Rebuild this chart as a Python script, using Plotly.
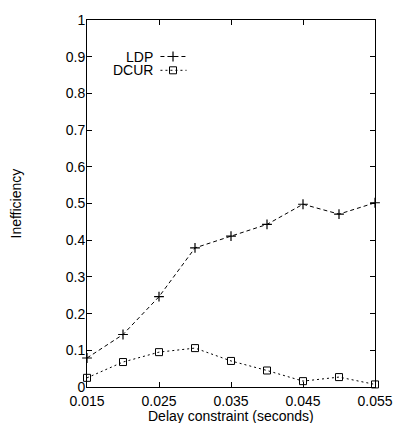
import plotly.graph_objects as go

delay = [0.015, 0.020, 0.025, 0.030, 0.035, 0.040, 0.045, 0.050, 0.055]
ldp = [0.079, 0.143, 0.246, 0.379, 0.411, 0.443, 0.498, 0.471, 0.502]
dcur = [0.025, 0.068, 0.095, 0.106, 0.071, 0.045, 0.016, 0.027, 0.007]
xticks = [0.015, 0.025, 0.035, 0.045, 0.055]
xticklabels = ["0.015", "0.025", "0.035", "0.045", "0.055"]
yticks = [0, 0.1, 0.2, 0.3, 0.4, 0.5, 0.6, 0.7, 0.8, 0.9, 1]
yticklabels = ["0", "0.1", "0.2", "0.3", "0.4", "0.5", "0.6", "0.7", "0.8", "0.9", "1"]
series_names = ["LDP", "DCUR"]

FONT = "Liberation Sans, Arial, sans-serif"
W, H = 405, 423
L, R, T, B = 87, 20, 15, 36
pw, ph = W - L - R, H - T - B

ldp_style = dict(line=dict(color="black", width=1, dash="4px,3px"),
                 marker=dict(symbol="cross-thin", size=7, line=dict(color="black", width=1.2)))
dcur_style = dict(line=dict(color="black", width=1, dash="2px,3px"),
                  marker=dict(symbol="square-open", size=7, color="black", line=dict(width=1)))

fig = go.Figure()
fig.add_trace(go.Scatter(x=delay, y=ldp, mode="lines+markers", name=series_names[0],
                         cliponaxis=False, **ldp_style))
fig.add_trace(go.Scatter(x=delay, y=dcur, mode="lines+markers", name=series_names[1],
                         cliponaxis=False, **dcur_style))

# legend keys (text left, sample right like gnuplot)
def px_x(p):
    return (p - L) / pw
def px_y(p):
    return 1 - (p - T) / ph

rows = [52, 66]
styles = [ldp_style, dcur_style]
for name, yy, st in zip(series_names, rows, styles):
    fig.add_annotation(x=px_x(156), y=px_y(yy), xref="paper", yref="paper",
                       text=name, showarrow=False, xanchor="right", yanchor="middle",
                       borderpad=0,
                       font=dict(family=FONT, size=14, color="black"))
    fig.add_trace(go.Scatter(x=[px_x(163), px_x(176), px_x(190)], y=[px_y(yy)] * 3,
                             xaxis="x2", yaxis="y2", mode="lines", showlegend=False,
                             hoverinfo="skip", line=st["line"]))
    fig.add_trace(go.Scatter(x=[px_x(176)], y=[px_y(yy)],
                             xaxis="x2", yaxis="y2", mode="markers", showlegend=False,
                             hoverinfo="skip", marker=st["marker"]))

fig.add_annotation(x=0.5, y=0, xref="paper", yref="paper", yshift=-29,
                   text="Delay constraint (seconds)", showarrow=False,
                   xanchor="center", yanchor="middle", borderpad=0,
                   font=dict(family=FONT, size=14, color="black"))
fig.add_annotation(x=0, y=0.5, xref="paper", yref="paper", xshift=-(L - 15),
                   text="Inefficiency", showarrow=False, textangle=-90,
                   xanchor="center", yanchor="middle",
                   font=dict(family=FONT, size=14, color="black"))

axis_common = dict(showgrid=False, zeroline=False, showline=True, linecolor="black",
                   linewidth=1, mirror="allticks", ticks="inside", ticklen=5,
                   tickcolor="black", tickwidth=1,
                   tickfont=dict(family=FONT, size=14, color="black"))

fig.update_layout(
    width=W, height=H,
    margin=dict(l=L, r=R, t=T, b=B, pad=0),
    paper_bgcolor="white", plot_bgcolor="white",
    showlegend=False,
    xaxis=dict(range=[0.015, 0.055], tickvals=xticks, ticktext=xticklabels,
               ticklabelstandoff=1, **axis_common),
    yaxis=dict(range=[0, 1], tickvals=yticks, ticktext=yticklabels,
               ticklabelstandoff=-2, **axis_common),
    xaxis2=dict(overlaying="x", range=[0, 1], visible=False, fixedrange=True),
    yaxis2=dict(overlaying="y", range=[0, 1], visible=False, fixedrange=True),
)

fig.write_html("out.html", config={"displayModeBar": False},
               post_script="document.body.style.margin='0px';document.body.style.overflow='hidden';")
